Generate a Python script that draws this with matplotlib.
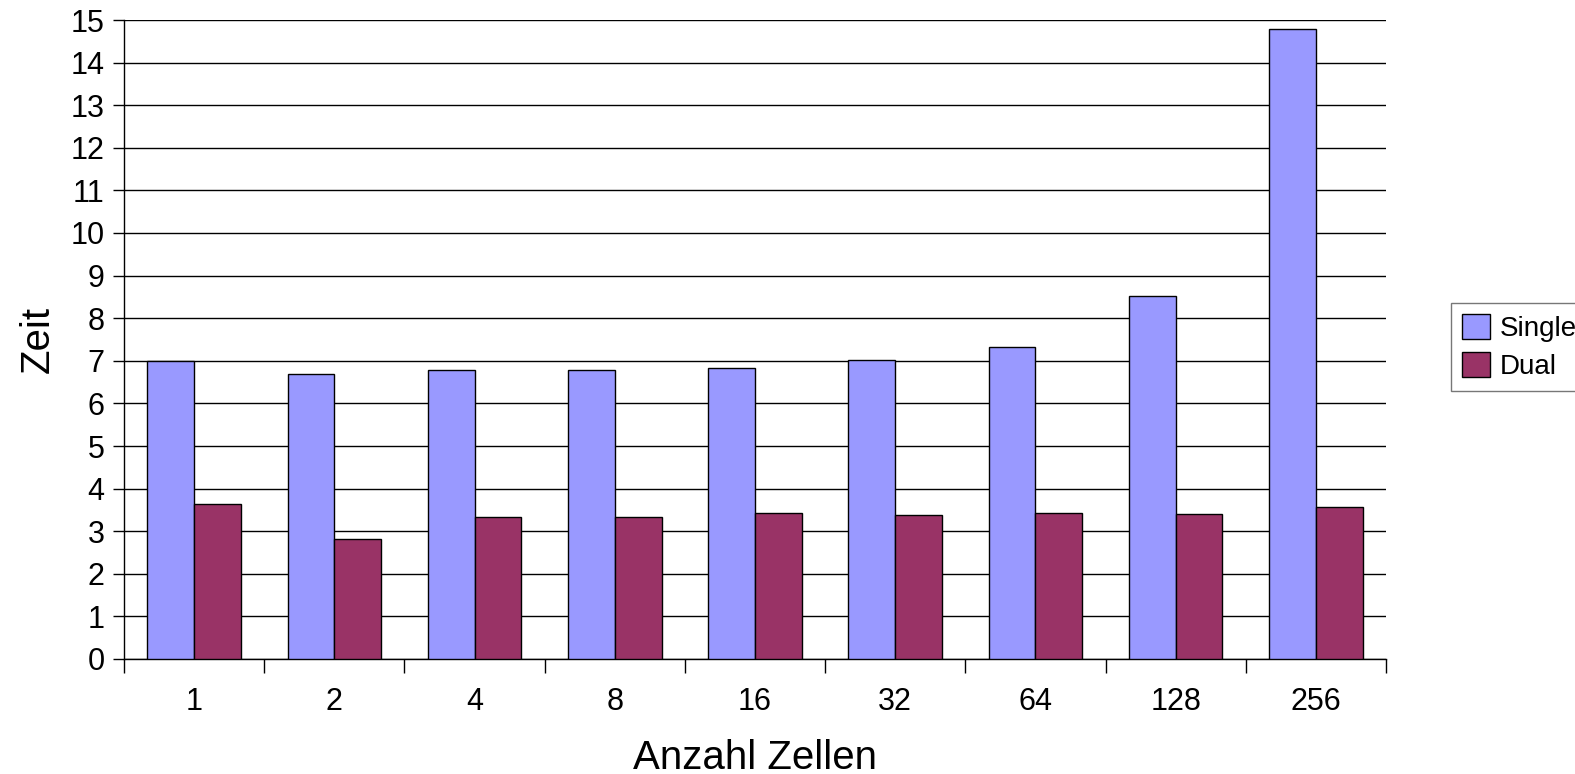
import numpy as np
import matplotlib.pyplot as plt

plt.rcParams['font.family'] = ['Liberation Sans', 'DejaVu Sans']

zellen = ["1", "2", "4", "8", "16", "32", "64", "128", "256"]
single = [7.00, 6.70, 6.78, 6.78, 6.83, 7.03, 7.32, 8.53, 14.79]
dual = [3.64, 2.82, 3.33, 3.33, 3.42, 3.38, 3.43, 3.41, 3.57]

fig = plt.figure(figsize=(15.75, 7.74), dpi=100)
ax = fig.add_axes([124 / 1575, 1 - 659 / 774, (1386 - 124) / 1575, (659 - 20) / 774])

x = np.arange(len(zellen))
w = 1 / 3
ax.bar(x - w / 2, single, w, color='#9999ff', edgecolor='black', linewidth=1, label='Single', zorder=3)
ax.bar(x + w / 2, dual, w, color='#993366', edgecolor='black', linewidth=1, label='Dual', zorder=3)

ax.set_xlim(-0.5, len(zellen) - 0.5)
ax.set_ylim(0, 15)
ax.set_yticks(np.arange(0, 16, 1))
ax.yaxis.grid(True, color='black', linewidth=1)
ax.set_axisbelow(True)

ax.set_xticks(x)
ax.set_xticklabels(zellen)
ax.set_xticks(np.arange(-0.5, len(zellen), 1), minor=True)
ax.tick_params(axis='x', which='major', length=0, labelsize=22, pad=20)
ax.tick_params(axis='x', which='minor', length=10, width=1, direction='out')
ax.tick_params(axis='y', length=8, width=1, direction='out', labelsize=22, pad=6)

for s in ['top', 'right']:
    ax.spines[s].set_visible(False)
ax.spines['left'].set_linewidth(1)
ax.spines['bottom'].set_linewidth(1)

ax.set_xlabel('Anzahl Zellen', fontsize=29, labelpad=16)
ax.set_ylabel('Zeit', fontsize=29, labelpad=10)

leg = fig.legend(loc='center left', bbox_to_anchor=(1451 / 1575, 1 - 347 / 774),
                 fontsize=20, fancybox=False, frameon=True, handlelength=1.0, handleheight=1.0,
                 handletextpad=0.35, borderpad=0.4, labelspacing=0.35, borderaxespad=0)
leg.get_frame().set_edgecolor('#555555')
leg.get_frame().set_linewidth(1)

fig.savefig('out.png', dpi=100)
